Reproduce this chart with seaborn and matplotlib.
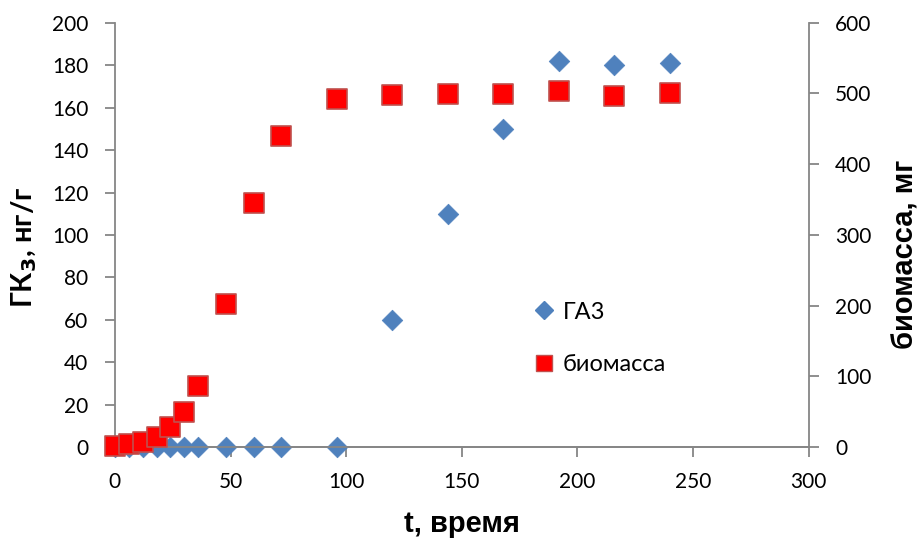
import seaborn as sns
import pandas as pd
import matplotlib.pyplot as plt
from matplotlib.lines import Line2D

# time points, hours
t = [0, 6, 12, 18, 24, 30, 36, 48, 60, 72, 96, 120, 144, 168, 192, 216, 240]
# GA3 content, ng/g
ga3 = [0, 0, 0, 0, 0, 0, 0, 0, 0, 0, 0, 60, 110, 150, 182, 180, 181]
# biomass, mg
biomass = [2, 4, 7, 14, 28, 50, 86, 202, 345, 440, 492, 498, 499, 499, 503, 496, 501]

df = pd.DataFrame({'t': t, 'ga3': ga3, 'biomass': biomass})

sns.set_theme(style="white")
plt.rcParams['font.family'] = ['Lato', 'DejaVu Sans']
plt.rcParams['text.color'] = 'black'
plt.rcParams['axes.labelcolor'] = 'black'

blue = '#4F81BD'
red = '#FF0000'
red_edge = '#C0504D'
grey = '#868686'
arial = ['Liberation Sans', 'DejaVu Sans']

fig = plt.figure(figsize=(9.19, 5.42), dpi=100)
ax = fig.add_axes([0.125, 0.175, 0.755, 0.783])
ax2 = ax.twinx()

sns.scatterplot(data=df, x='t', y='ga3', ax=ax, marker='D', s=110,
                color=blue, edgecolor=blue, linewidth=0.5, legend=False,
                clip_on=False, zorder=3)
sns.scatterplot(data=df, x='t', y='biomass', ax=ax2, marker='s', s=210,
                color=red, edgecolor=red_edge, linewidth=1.2, legend=False,
                clip_on=False, zorder=3)

ax.set_xlim(0, 300)
ax.set_ylim(0, 200)
ax2.set_ylim(0, 600)
ax.set_xticks(range(0, 301, 50))
ax.set_yticks(range(0, 201, 20))
ax2.set_yticks(range(0, 601, 100))

for a in (ax, ax2):
    a.spines['top'].set_visible(False)
    for side in ('left', 'right', 'bottom'):
        a.spines[side].set_color(grey)
        a.spines[side].set_linewidth(1.3)
    a.tick_params(direction='out', length=7, width=1.3, color=grey,
                  labelsize=15, labelcolor='black', pad=12)
ax.tick_params(axis='x', bottom=True, pad=11)
ax.tick_params(axis='y', left=True, right=False)
ax2.tick_params(axis='y', right=True, left=False)
ax2.spines['left'].set_visible(False)
ax.spines['right'].set_visible(False)

ax.set_xlabel('t, время', fontsize=21, fontweight='bold', family=arial,
              labelpad=13)
ax.set_ylabel('ГК$_\\mathbf{3}$, нг/г', fontsize=21, fontweight='bold')
ax2.set_ylabel('биомасса, мг', fontsize=21, fontweight='bold', family=arial)
ax.yaxis.set_label_coords(-0.11, 0.47)
ax2.yaxis.set_label_coords(1.12, 0.455)

handles = [
    Line2D([], [], marker='D', linestyle='none', markersize=9,
           markerfacecolor=blue, markeredgecolor=blue),
    Line2D([], [], marker='s', linestyle='none', markersize=12,
           markerfacecolor=red, markeredgecolor=red_edge),
]
ax2.legend(handles, ['ГА3', 'биомасса'], loc='center left',
           bbox_to_anchor=(0.567, 0.256), frameon=False,
           labelspacing=1.35, handletextpad=0.2, handlelength=1.2,
           prop={'family': ['Lato', 'DejaVu Sans'], 'size': 17})

fig.savefig('out.png', dpi=100)
